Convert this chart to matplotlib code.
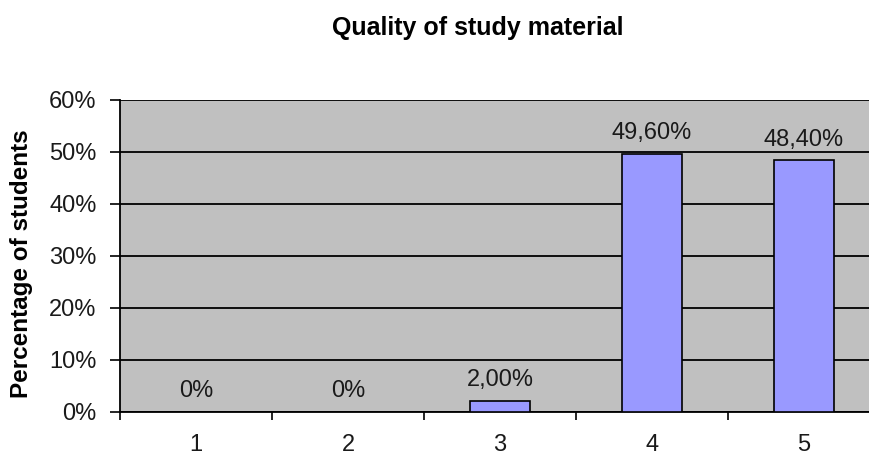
import matplotlib.pyplot as plt
from matplotlib.ticker import FixedLocator

plt.rcParams['font.family'] = ['Liberation Sans', 'DejaVu Sans']

# Ratings and share of students giving each one
ratings = ['1', '2', '3', '4', '5']
percent = [0.0, 0.0, 2.0, 49.6, 48.4]
y_ticks = [0, 10, 20, 30, 40, 50, 60]

fig = plt.figure(figsize=(8.7, 4.55), dpi=100)
W, H = 870, 455
ax = fig.add_axes([120 / W, (H - 411.5) / H, (880 - 120) / W, (411.5 - 100) / H])
ax.set_facecolor('#C0C0C0')

x = list(range(1, len(ratings) + 1))
ax.bar(x, percent, width=0.4, color='#9999FF', edgecolor='black', linewidth=1.2, zorder=3)

# value labels above each bar
for xi, v in zip(x, percent):
    txt = '0%' if v == 0 else f'{v:.2f}%'.replace('.', ',')
    ax.annotate(txt, (xi, v), xytext=(0, 7), textcoords='offset points',
                ha='center', va='bottom', fontsize=17, color='#1a1a1a')

ax.set_xlim(0.5, len(ratings) + 0.5)
ax.set_ylim(0, 60)
ax.set_yticks(y_ticks)
ax.set_yticklabels([f'{t}%' for t in y_ticks])
ax.yaxis.grid(True, color='black', linewidth=1.3, zorder=1)
ax.set_axisbelow(True)

# category boundaries get tick marks, names sit between them
ax.xaxis.set_major_locator(FixedLocator([i + 0.5 for i in range(0, len(ratings) + 1)]))
ax.xaxis.set_major_formatter(plt.NullFormatter())
ax.xaxis.set_minor_locator(FixedLocator(x))
ax.set_xticklabels(ratings, minor=True)
ax.tick_params(axis='x', which='major', length=6, width=1.2, direction='out')
ax.tick_params(axis='x', which='minor', length=0, pad=16, labelsize=17, labelcolor='#1a1a1a')
ax.tick_params(axis='y', length=7, width=1.2, direction='out', pad=10, labelsize=17,
               labelcolor='#1a1a1a')

for s in ['top', 'right']:
    ax.spines[s].set_visible(False)
for s in ['left', 'bottom']:
    ax.spines[s].set_linewidth(1.3)

ax.set_ylabel('Percentage of students', fontsize=17.5, fontweight='bold')
ax.yaxis.set_label_coords(-0.1145, 0.473)
fig.text(478 / W, 1 - 28 / H, 'Quality of study material', ha='center', va='center',
         fontsize=18, fontweight='bold')

fig.savefig('out.png', dpi=100)
